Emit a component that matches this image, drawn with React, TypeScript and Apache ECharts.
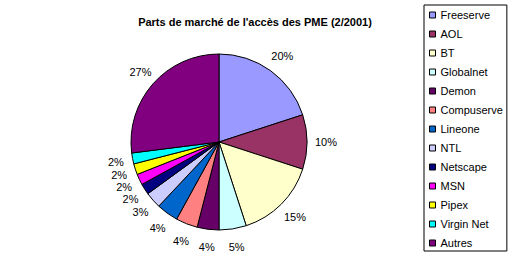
import React, { useEffect, useRef } from "react";
import * as echarts from "echarts";

const providers = [
  "Freeserve", "AOL", "BT", "Globalnet", "Demon", "Compuserve", "Lineone",
  "NTL", "Netscape", "MSN", "Pipex", "Virgin Net", "Autres",
];
const shares = [20, 10, 15, 5, 4, 4, 4, 3, 2, 2, 2, 2, 27];
const palette = [
  "#9999FF", "#993366", "#FFFFCC", "#CCFFFF", "#660066", "#FF8080", "#0066CC",
  "#CCCCFF", "#000080", "#FF00FF", "#FFFF00", "#00FFFF", "#800080",
];
const titleText = "Parts de marché de l'accès des PME (2/2001)";

const FONT = "'Liberation Sans', Arial, sans-serif";
const PIE_CENTER = [219, 142];
const LABEL_CENTER = [220, 142];

export default function App() {
  const ref = useRef<HTMLDivElement>(null);

  useEffect(() => {
    if (!ref.current) return;
    const chart = echarts.init(ref.current, undefined, { renderer: "svg" });
    const data = providers.map((name, i) => ({ name, value: shares[i] }));
    chart.setOption({
      animation: false,
      backgroundColor: "#ffffff",
      color: palette,
      title: {
        text: titleText,
        left: 255,
        textAlign: "center",
        top: 16,
        padding: 0,
        textStyle: { fontFamily: FONT, fontSize: 11, fontWeight: "bold", color: "#000" },
      },
      legend: {
        orient: "vertical",
        left: 424,
        top: 5,
        padding: [4, 4, 2, 5],
        borderColor: "#000",
        borderWidth: 1,
        icon: "rect",
        itemWidth: 6,
        itemHeight: 6,
        itemGap: 7,
        itemStyle: { borderColor: "#000", borderWidth: 1 },
        textStyle: { fontFamily: FONT, fontSize: 11, color: "#000", lineHeight: 12 },
        data: providers,
      },
      series: [
        {
          type: "pie",
          center: PIE_CENTER,
          radius: 88,
          startAngle: 90,
          clockwise: true,
          itemStyle: { borderColor: "#000", borderWidth: 1 },
          label: { show: false },
          labelLine: { show: false },
          emphasis: { disabled: true },
          silent: true,
          data,
        },
        {
          // transparent ring that carries the percentage labels just outside the pie
          type: "pie",
          center: LABEL_CENTER,
          radius: [93, 113],
          startAngle: 90,
          clockwise: true,
          itemStyle: { color: "rgba(0,0,0,0)", borderWidth: 0 },
          label: {
            show: true,
            position: "inside",
            formatter: (p: any) => `${p.value}%`,
            fontFamily: FONT,
            fontSize: 11,
            color: "#000",
          },
          labelLine: { show: false },
          emphasis: { disabled: true },
          silent: true,
          data,
        },
      ],
    });
    return () => chart.dispose();
  }, []);

  return (
    <div
      ref={ref}
      style={{ position: "absolute", left: 0, top: 0, width: 512, height: 256 }}
    />
  );
}
